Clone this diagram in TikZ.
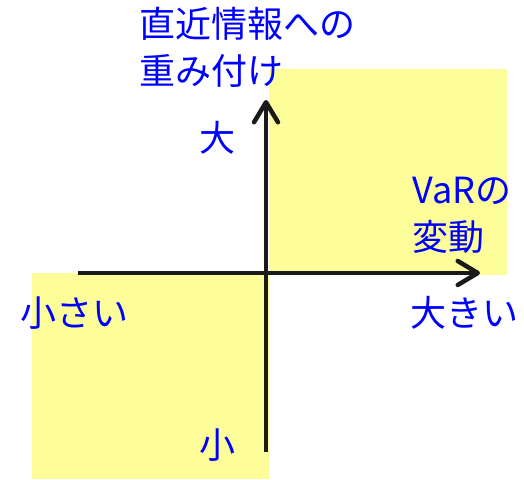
\documentclass[tikz,border=0pt]{standalone}
\usepackage{fontspec}
\setmainfont{Noto Sans CJK JP}
\usetikzlibrary{arrows.meta}
\definecolor{pale}{RGB}{253,253,153}
\definecolor{axisc}{RGB}{26,26,26}
\definecolor{lbl}{RGB}{0,0,255}
\begin{document}
\begin{tikzpicture}[x=1pt,y=-1pt,
  lab/.style={text=lbl,font=\fontsize{36}{43}\selectfont,inner sep=0pt,anchor=west,align=left},
  axis/.style={draw=axisc,line width=4.5pt,-{Straight Barb[length=20pt,width=24pt,line cap=round,line join=round]}}]
\useasboundingbox (0,0) rectangle (524,479);
\fill[pale] (269,69) rectangle (507,275);
\fill[pale] (32,273) rectangle (269,479);
\coordinate (xl) at (78,273);
\coordinate (xr) at (480,273);
\coordinate (yb) at (266,452);
\coordinate (yt) at (266,100);
\draw[axis] (xl) -- (xr);
\draw[axis] (yb) -- (yt);
\node[lab] (t1) at (139,24) {直近情報への};
\node[lab] (t2) at (139,71) {重み付け};
\node[lab] (big) at (199,138) {大};
\node[lab] (v1) at (412,191) {VaRの};
\node[lab] (v2) at (412,237) {変動};
\node[lab] (small) at (20,313) {小さい};
\node[lab] (large) at (410,313) {大きい};
\node[lab] (sm) at (199,445) {小};
\end{tikzpicture}
\end{document}
